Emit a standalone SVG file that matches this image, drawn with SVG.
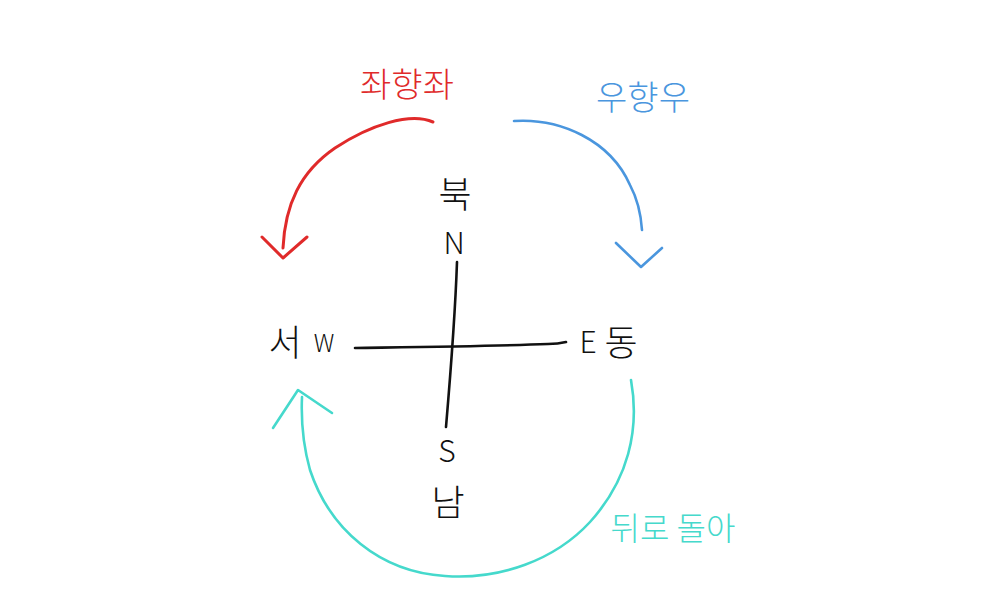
<svg xmlns="http://www.w3.org/2000/svg" width="1000" height="612" viewBox="0 0 1000 612">
<style>
.lbl{font-family:"Noto Sans CJK KR","Noto Sans",sans-serif;font-weight:300;text-anchor:middle}
.k{fill:#111}
.st{fill:none;stroke-linecap:round;stroke-linejoin:round}
.red{stroke:#e02a2a;stroke-width:3}
.blue{stroke:#4a96de;stroke-width:2.6}
.cyan{stroke:#45d9cc;stroke-width:2.6}
.blk{stroke:#111;stroke-width:2.6}
</style>
<rect width="1000" height="612" fill="#ffffff"/>
<g id="axes">
<path class="st blk" d="M457,262 C455,320 450,380 446,427"/>
<path class="st blk" d="M355,348 C420,347 500,346 548,344 C556,344 562,343 566,342"/>
</g>
<g id="connectors">
<path class="st red" d="M433,122 C410,112 370,125 335,148 C300,172 285,205 283,248"/>
<path class="st red" d="M262,237 L283,258 L307,237"/>
<path class="st blue" d="M514,121 C560,118 610,140 630,185 C638,200 641,215 642,230"/>
<path class="st blue" d="M616,243 L641,267 L662,248"/>
<path class="st cyan" d="M631,380 C640,430 628,480 590,522 C555,560 500,580 445,576 C380,572 330,530 310,470 C303,445 301,420 302,397"/>
<path class="st cyan" d="M273,428 L298,390 L332,413"/>
</g>
<g id="north"><text class="lbl k" x="455" y="208" font-size="36">북</text><text class="lbl k" x="454" y="254" font-size="30">N</text></g>
<g id="west"><text class="lbl k" x="285" y="356" font-size="36">서</text><text class="lbl k" x="324" y="352" font-size="24">W</text></g>
<g id="east"><text class="lbl k" x="588" y="353" font-size="30">E</text><text class="lbl k" x="621" y="356" font-size="36">동</text></g>
<g id="south"><text class="lbl k" x="447" y="462" font-size="30">S</text><text class="lbl k" x="448" y="516" font-size="36">남</text></g>
<g id="left-turn"><text class="lbl" x="407" y="97" font-size="34" fill="#e02a2a">좌향좌</text></g>
<g id="right-turn"><text class="lbl" x="643" y="110" font-size="34" fill="#4a96de">우향우</text></g>
<g id="about-turn"><text class="lbl" x="673" y="540" font-size="32" fill="#45d9cc">뒤로 돌아</text></g>
</svg>
